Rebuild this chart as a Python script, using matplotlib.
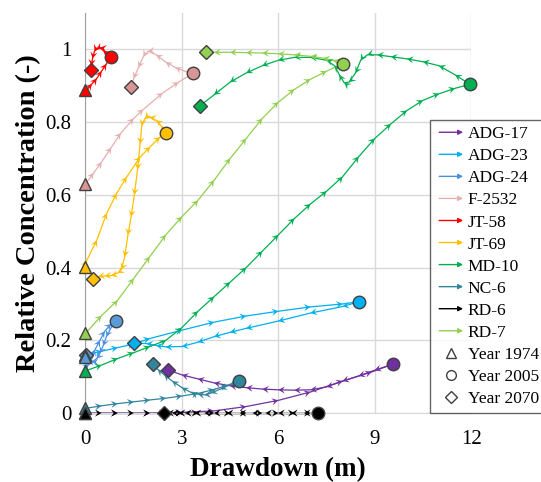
import numpy as np
import matplotlib.pyplot as plt
from matplotlib.path import Path
from matplotlib.transforms import Affine2D
from matplotlib.patches import FancyArrowPatch
from matplotlib.legend_handler import HandlerBase
from matplotlib.lines import Line2D

plt.rcParams['font.family'] = ['Liberation Serif', 'DejaVu Serif']

# path of each well: 1974 -> 2005 (drawdown grows), 2005 -> 2070 (recovery)
adg17_out_x = [0, 1, 2, 3, 4, 5, 6, 7, 8, 8.9, 9.58]
adg17_out_y = [0, 0, 0, 0.002, 0.006, 0.018, 0.035, 0.058, 0.088, 0.113, 0.135]
adg17_ret_x = [9.58, 9.0, 8.5, 8.0, 7.5, 7.0, 6.5, 6.0, 5.5, 5.0, 4.5, 4.0, 3.5, 3.0, 2.58]
adg17_ret_y = [0.135, 0.118, 0.102, 0.088, 0.072, 0.064, 0.063, 0.064, 0.066, 0.07, 0.075, 0.083, 0.094, 0.105, 0.118]

adg23_out_x = [0, 0.5, 1, 1.5, 2, 3, 4, 5, 6, 7, 8, 8.5]
adg23_out_y = [0.16, 0.17, 0.18, 0.19, 0.205, 0.228, 0.25, 0.267, 0.28, 0.292, 0.3, 0.306]
adg23_ret_x = [8.5, 8, 7, 6, 5, 4.5, 4, 3.5, 3, 2.5, 2.2, 1.9, 1.52]
adg23_ret_y = [0.306, 0.293, 0.275, 0.253, 0.233, 0.222, 0.21, 0.195, 0.183, 0.182, 0.186, 0.191, 0.193]

adg24_out_x = [0, 0.05, 0.12, 0.2, 0.3, 0.45, 0.6, 0.8, 0.95]
adg24_out_y = [0.155, 0.14, 0.135, 0.15, 0.175, 0.2, 0.225, 0.245, 0.254]
adg24_ret_x = [0.95, 0.8, 0.65, 0.55, 0.45, 0.35, 0.2, 0.08, 0.03]
adg24_ret_y = [0.254, 0.235, 0.21, 0.185, 0.165, 0.15, 0.14, 0.15, 0.16]

f2532_out_x = [0, 0.25, 0.5, 0.8, 1.1, 1.5, 1.8, 2.4, 2.9, 3.36]
f2532_out_y = [0.63, 0.66, 0.69, 0.73, 0.77, 0.81, 0.835, 0.88, 0.91, 0.935]
f2532_ret_x = [3.36, 3.1, 2.8, 2.5, 2.2, 1.95, 1.8, 1.65, 1.5, 1.42]
f2532_ret_y = [0.935, 0.94, 0.95, 0.965, 0.985, 0.995, 0.98, 0.95, 0.92, 0.897]

jt58_out_x = [0, 0.1, 0.2, 0.35, 0.5, 0.65, 0.79]
jt58_out_y = [0.887, 0.895, 0.905, 0.92, 0.94, 0.96, 0.98]
jt58_ret_x = [0.79, 0.65, 0.55, 0.45, 0.35, 0.28, 0.22, 0.18, 0.17]
jt58_ret_y = [0.98, 0.99, 0.997, 1.005, 1.0, 0.995, 0.975, 0.955, 0.942]

jt69_out_x = [0, 0.04, 0.35, 0.66, 0.97, 1.28, 1.7, 2.01, 2.32, 2.51]
jt69_out_y = [0.402, 0.42, 0.475, 0.549, 0.604, 0.649, 0.704, 0.732, 0.759, 0.771]
jt69_ret_x = [2.51, 2.35, 2.2, 2.0, 1.85, 1.75, 1.7, 1.62, 1.52, 1.42, 1.32, 1.22, 1.12, 1.0, 0.8, 0.6, 0.4, 0.22]
jt69_ret_y = [0.771, 0.79, 0.805, 0.813, 0.81, 0.79, 0.74, 0.67, 0.6, 0.54, 0.49, 0.43, 0.395, 0.385, 0.378, 0.377, 0.375, 0.37]

md10_out_x = [0, 0.5, 1, 1.5, 2, 2.5, 3, 3.5, 4, 4.5, 5, 5.5, 6, 6.5, 7, 7.5, 8, 8.5, 9, 9.5, 10, 10.5, 11, 11.5, 11.96]
md10_out_y = [0.116, 0.132, 0.15, 0.166, 0.183, 0.2, 0.235, 0.28, 0.32, 0.36, 0.4, 0.445, 0.49, 0.535, 0.575, 0.61,
              0.65, 0.705, 0.755, 0.795, 0.832, 0.86, 0.878, 0.893, 0.904]
md10_ret_x = [11.96, 11.5, 11, 10.5, 10, 9.5, 9.08, 8.77, 8.56, 8.4, 8.2, 8.05, 7.9, 7.75, 7.5, 7, 6.5, 6, 5.5, 5,
              4.5, 4, 3.55]
md10_ret_y = [0.904, 0.93, 0.955, 0.966, 0.974, 0.98, 0.985, 0.985, 0.97, 0.935, 0.91, 0.908, 0.93, 0.955, 0.97,
              0.978, 0.978, 0.97, 0.955, 0.935, 0.91, 0.875, 0.844]

nc6_out_x = [0, 0.5, 1, 1.5, 2, 2.5, 3, 3.5, 4, 4.4, 4.79]
nc6_out_y = [0.013, 0.02, 0.026, 0.031, 0.036, 0.041, 0.047, 0.054, 0.065, 0.076, 0.088]
nc6_ret_x = [4.79, 4.5, 4.2, 3.9, 3.7, 3.5, 3.3, 3.0, 2.7, 2.45, 2.25, 2.09]
nc6_ret_y = [0.088, 0.078, 0.066, 0.055, 0.05, 0.052, 0.056, 0.07, 0.088, 0.105, 0.12, 0.134]

rd6_out_x = [0, 0.5, 1, 1.5, 2, 2.5, 3, 3.5, 4, 4.5, 5, 5.5, 6, 6.5, 7, 7.23]
rd6_out_y = [0] * 16
rd6_ret_x = [7.23, 6.8, 6.4, 6.0, 5.6, 5.2, 4.8, 4.4, 4.0, 3.7, 3.4, 3.1, 2.9, 2.7, 2.55, 2.43]
rd6_ret_y = [0] * 16

rd7_out_x = [0, 0.5, 1, 1.5, 2, 2.5, 3, 3.5, 4, 4.5, 5, 5.5, 6, 6.5, 7, 7.5, 8]
rd7_out_y = [0.219, 0.268, 0.31, 0.37, 0.43, 0.49, 0.54, 0.585, 0.64, 0.7, 0.755, 0.81, 0.855, 0.89, 0.918, 0.94, 0.961]
rd7_ret_x = [8, 7.7, 7.4, 7, 6.5, 6, 5.5, 5, 4.5, 4, 3.76]
rd7_ret_y = [0.961, 0.97, 0.976, 0.981, 0.985, 0.988, 0.99, 0.991, 0.992, 0.992, 0.992]

wells = ['ADG-17', 'ADG-23', 'ADG-24', 'F-2532', 'JT-58', 'JT-69', 'MD-10', 'NC-6', 'RD-6', 'RD-7']
line_colors = ['#7030A0', '#00B0F0', '#4A90E2', '#E6B0B0', '#FF0000', '#FFC000', '#00B050', '#31859C', '#000000', '#92D050']
dot_colors = ['#7030A0', '#00B0F0', '#5B9BD5', '#D99594', '#FF0000', '#FFC000', '#00B050', '#31859C', '#000000', '#92D050']
paths = [
    (adg17_out_x, adg17_out_y, adg17_ret_x, adg17_ret_y),
    (adg23_out_x, adg23_out_y, adg23_ret_x, adg23_ret_y),
    (adg24_out_x, adg24_out_y, adg24_ret_x, adg24_ret_y),
    (f2532_out_x, f2532_out_y, f2532_ret_x, f2532_ret_y),
    (jt58_out_x, jt58_out_y, jt58_ret_x, jt58_ret_y),
    (jt69_out_x, jt69_out_y, jt69_ret_x, jt69_ret_y),
    (md10_out_x, md10_out_y, md10_ret_x, md10_ret_y),
    (nc6_out_x, nc6_out_y, nc6_ret_x, nc6_ret_y),
    (rd6_out_x, rd6_out_y, rd6_ret_x, rd6_ret_y),
    (rd7_out_x, rd7_out_y, rd7_ret_x, rd7_ret_y),
]

fig = plt.figure(figsize=(5.41, 4.82), dpi=100)
ax = fig.add_axes([0.158, 0.143, 0.713, 0.830])
ax.set_xlim(0, 12)
ax.set_ylim(0, 1.1)
ax.set_xticks([0, 3, 6, 9, 12])
ax.set_yticks([0, 0.2, 0.4, 0.6, 0.8, 1.0])
ax.set_yticklabels(['0', '0.2', '0.4', '0.6', '0.8', '1'])
ax.tick_params(length=0, labelsize=15)
ax.tick_params(axis='x', pad=12)
ax.tick_params(axis='y', pad=10)
ax.grid(color='#D9D9D9', lw=1)
ax.set_axisbelow(True)
for s in ['top', 'right']:
    ax.spines[s].set_visible(False)
ax.spines['left'].set_color('#A0A0A0')
ax.spines['bottom'].set_color('#D9D9D9')
ax.set_xlabel('Drawdown (m)', fontsize=19.5, fontweight='bold', labelpad=6)
ax.set_ylabel('Relative Concentration (-)', fontsize=20.5, fontweight='bold', labelpad=3)

head = Path([(0, 0), (-1, 0.55), (-0.6, 0), (-1, -0.55), (0, 0)],
            [Path.MOVETO, Path.LINETO, Path.LINETO, Path.LINETO, Path.CLOSEPOLY])


def arrows(x, y, color):
    x = np.asarray(x, float)
    y = np.asarray(y, float)
    pts = ax.transData.transform(np.column_stack([x, y]))
    heads = []
    for i in range(1, len(x) - 1):
        d = pts[i + 1] - pts[i - 1]
        ang = np.degrees(np.arctan2(d[1], d[0]))
        heads.append(head.transformed(Affine2D().rotate_deg(ang)))
    sc = ax.scatter(x[1:-1], y[1:-1], s=22, color=color, lw=0, clip_on=False, zorder=3)
    sc.set_paths(heads)


for i, name in enumerate(wells):
    ox, oy, rx, ry = paths[i]
    c = line_colors[i]
    ax.plot(ox, oy, color=c, lw=0.9, clip_on=False, zorder=2)
    ax.plot(rx, ry, color=c, lw=0.9, clip_on=False, zorder=2)
    arrows(ox, oy, c)
    arrows(rx, ry, c)

mk = dict(ls='none', mec='#404040', mew=1, clip_on=False, zorder=5)
for i, name in enumerate(wells):
    ox, oy, rx, ry = paths[i]
    fc = dot_colors[i]
    ax.plot(rx[-1], ry[-1], marker='D', ms=7, mfc=fc, **mk)
    ax.plot(ox[-1], oy[-1], marker='o', ms=9, mfc=fc, **mk)
for i, name in enumerate(wells):
    ox, oy, rx, ry = paths[i]
    ax.plot(ox[0], oy[0], marker='^', ms=8.5, mfc=dot_colors[i], **mk)


class WellKey:
    def __init__(self, color):
        self.color = color


class ArrowHandler(HandlerBase):
    def create_artists(self, legend, orig, xd, yd, w, h, fs, trans):
        a = FancyArrowPatch((-xd, h / 2 - yd), (-xd + w, h / 2 - yd), arrowstyle='-|>',
                            mutation_scale=7, color=orig.color, lw=1, transform=trans)
        return [a]


handles = [WellKey(c) for c in line_colors]
labels = list(wells)
for m in ['^', 'o', 'D']:
    handles.append(Line2D([], [], ls='none', marker=m, ms=7 if m != 'D' else 6, mfc='none', mec='#404040', mew=1))
labels += ['Year 1974', 'Year 2005', 'Year 2070']

leg = ax.legend(handles, labels, handler_map={WellKey: ArrowHandler()}, loc='lower left',
                bbox_to_anchor=(0.894, 0.0), fontsize=12.5, frameon=True, fancybox=False,
                edgecolor='#404040', handlelength=1.7, handletextpad=0.1, labelspacing=0.34,
                borderpad=0.35, borderaxespad=0)
leg.get_frame().set_linewidth(1)
leg.set_zorder(10)

plt.savefig('out.png', dpi=100)
